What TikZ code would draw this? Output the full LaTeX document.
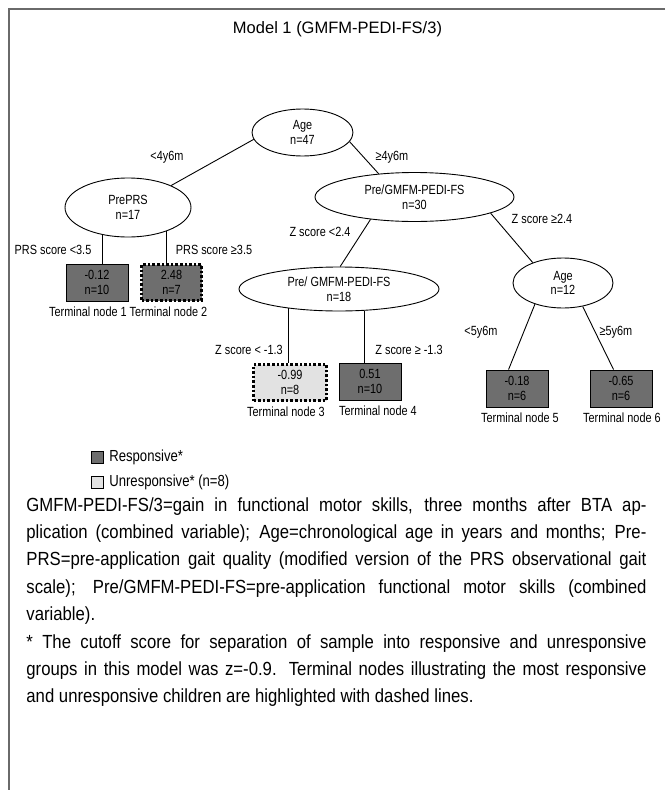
\documentclass[tikz,border=0pt]{standalone}
\usepackage{fontspec}
\setmainfont{Liberation Sans}
\newfontfamily\condfont{Liberation Sans}[FakeStretch=0.82]
\newfontfamily\notefont{Liberation Sans}[FakeStretch=0.88]
\usepackage{tikz}
\usetikzlibrary{shapes.geometric}
\usetikzlibrary{positioning}

\definecolor{respgray}{HTML}{6E6E6E}
\definecolor{unrespgray}{HTML}{E2E2E2}
\definecolor{framegray}{HTML}{6A6A6A}
\newcommand{\treefont}{\condfont\fontsize{13.3}{14.5}\selectfont}
\newcommand{\keyfont}{\condfont\fontsize{16}{18}\selectfont}
\newcommand{\notesize}{\notefont\fontsize{19}{27.4}\selectfont}

\begin{document}
\begin{tikzpicture}[x=1pt,y=-1pt,node distance=5pt,line width=0.9pt,auto]
 \tikzstyle{split node}=[ellipse,draw,inner sep=0,align=center,font=\treefont]
 \tikzstyle{leaf node}=[rectangle,draw,fill=respgray,inner sep=0,minimum width=62pt,minimum height=37pt,align=center,font=\treefont]
 \tikzstyle{low node}=[leaf node,fill=unrespgray]
 \tikzstyle{extreme node}=[line width=2.6pt,dash pattern=on 2.6pt off 2pt]
 \tikzstyle{rule label}=[inner sep=0,font=\treefont]
 \tikzstyle{leaf label}=[inner sep=0,font=\treefont]
 \tikzset{
 	key box/.style={rectangle,draw,line width=0.8pt,minimum size=12pt,inner sep=0},
 	key label/.style={inner sep=0,font=\keyfont},
 	frame line/.style={draw=framegray,line width=1.4pt},
 	note text/.style={anchor=base west,text width=620pt,align=justify,inner sep=0,font=\notesize}
 }

 \useasboundingbox (0,0) rectangle (665,790);
 \draw[frame line] (665,9) -- (9,9) -- (9,790);

 \node[anchor=base,inner sep=0,font=\fontsize{16.5}{19}\selectfont] (title) at (337.5,33) {Model 1 (GMFM-PEDI-FS/3)};

      \node[split node,minimum width=101pt,minimum height=47pt] (age) at (302.5,132.5) {Age\\n=47};
      \node[split node,minimum width=126pt,minimum height=59pt] (preprs) at (128,207.5) {PrePRS\\n=17};
      \node[split node,minimum width=199pt,minimum height=49pt] (prefs) at (414.5,197) {Pre/GMFM-PEDI-FS\\n=30};
      \node[split node,minimum width=200pt,minimum height=44pt] (prefsb) at (339,289) {Pre/ GMFM-PEDI-FS\\n=18};
      \node[split node,minimum width=100pt,minimum height=50pt] (agey) at (563,283) {Age\\n=12};

      \node[leaf node] (t1) at (97,282.5) {-0.12\\n=10};
      \node[leaf node,extreme node,minimum width=60pt,minimum height=36pt] (t2) at (171.5,282.5) {2.48\\n=7};
      \node[low node,extreme node,minimum width=73pt,minimum height=36pt] (t3) at (290,382.5) {-0.99\\n=8};
      \node[leaf node] (t4) at (370,381.5) {0.51\\n=10};
      \node[leaf node] (t5) at (517,388.5) {-0.18\\n=6};
      \node[leaf node] (t6) at (621,388.5) {-0.65\\n=6};

      \node[leaf label] (t1lab) [below=of t1,xshift=-9pt] {Terminal node 1};
      \node[leaf label] (t2lab) [below=of t2,xshift=-3pt] {Terminal node 2};
      \node[leaf label] (t3lab) [below=of t3,xshift=-4pt] {Terminal node 3};
      \node[leaf label] (t4lab) [below=of t4,xshift=8pt] {Terminal node 4};
      \node[leaf label] (t5lab) [below=of t5,xshift=3pt] {Terminal node 5};
      \node[leaf label] (t6lab) [below=of t6,xshift=1pt] {Terminal node 6};

      \node[rule label] (agelo) at (167,157) {<4y6m};
      \node[rule label] (agehi) at (392,157) {≥4y6m};
      \node[rule label] (prslo) at (53,250) {PRS score <3.5};
      \node[rule label] (prshi) at (214,250) {PRS score ≥3.5};
      \node[rule label] (zlo) at (320,232) {Z score <2.4};
      \node[rule label] (zhi) at (542,219) {Z score ≥2.4};
      \node[rule label] (zblo) at (249,350) {Z score < -1.3};
      \node[rule label] (zbhi) at (409,350) {Z score ≥ -1.3};
      \node[rule label] (ageylo) at (481,332) {<5y6m};
      \node[rule label] (ageyhi) at (616,332) {≥5y6m};

     \path (age.188) edge (preprs.27);
     \path (age.-11) edge (prefs.147);
     \path (preprs.227) edge (preprs.227 |- t1.north);
     \path (preprs.-32) edge (preprs.-32 |- t2.north);
     \path (prefs.207) edge (prefsb.87);
     \path (prefs.-12) edge (agey.146);
     \path (prefsb.201) edge (prefsb.201 |- t3.north);
     \path (prefsb.-40) edge (prefsb.-40 |- t4.north);
     \path (agey.217) edge ([xshift=23pt]t5.north west);
     \path (agey.-50) edge ([xshift=24pt]t6.north west);

     % legend
      \node[key box,fill=respgray] (keyr) at (97.5,457.5) {};
      \node[key label] (keyrlab) [right=of keyr] {Responsive*};
      \node[key box,fill=unrespgray] (keyu) at (97.5,482) {};
      \node[key label] (keyulab) [right=of keyu] {Unresponsive* (n=8)};

      \node[note text] (note) at (26,511) {\hyphenpenalty=10000\exhyphenpenalty=10000\tolerance=10000
GMFM-PEDI-FS/3=gain in functional motor skills, three months after BTA ap-\linebreak
plication (combined variable); Age=chronological age in years and months; Pre-\linebreak
PRS=pre-application gait quality (modified version of the PRS observational gait\linebreak
scale); Pre/GMFM-PEDI-FS=pre-application functional motor skills (combined\linebreak
variable).\par
* The cutoff score for separation of sample into responsive and unresponsive\linebreak
groups in this model was z=-0.9. Terminal nodes illustrating the most responsive\linebreak
and unresponsive children are highlighted with dashed lines.};
 \end{tikzpicture}
\end{document}
